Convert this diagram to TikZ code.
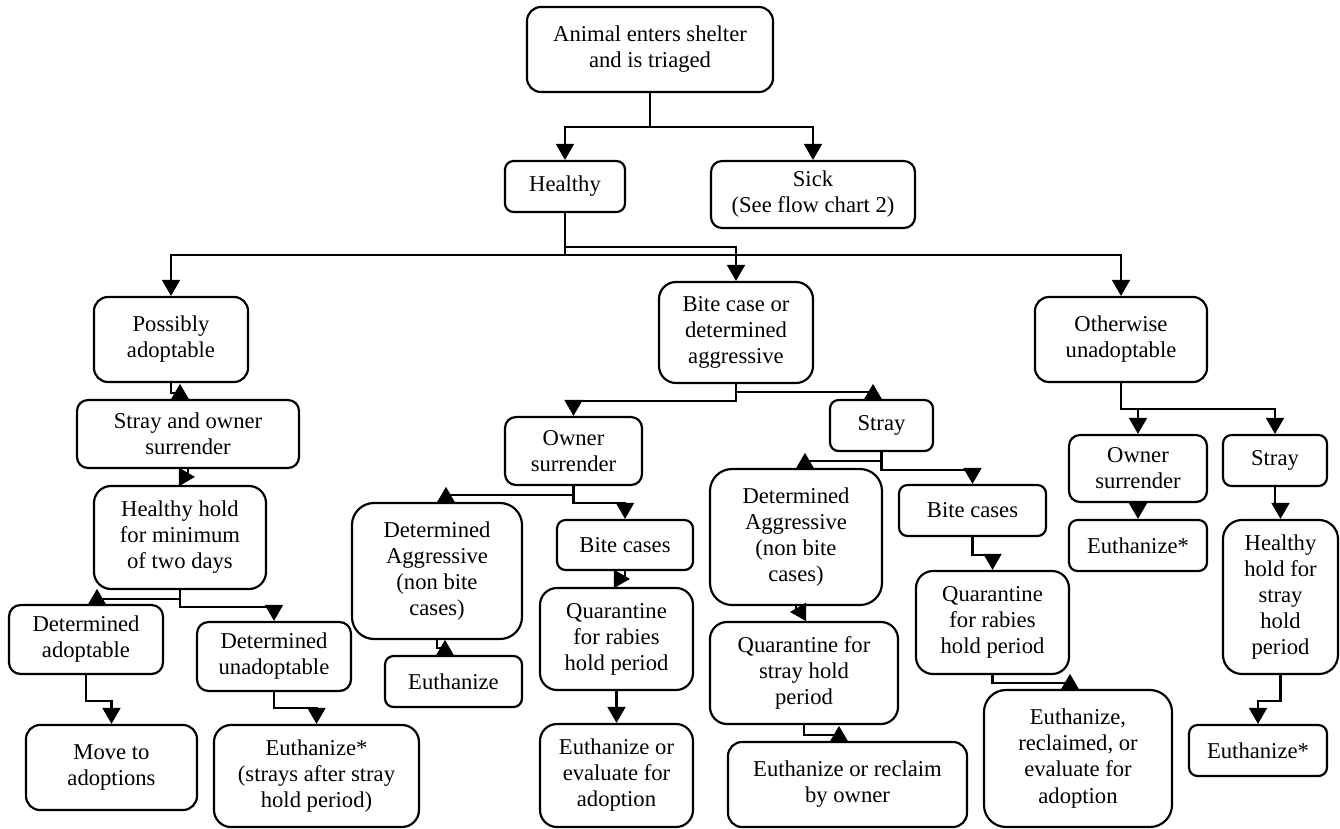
\documentclass[tikz,border=0pt]{standalone}
\usepackage{fontspec}
\setmainfont{Liberation Serif}
\usetikzlibrary{arrows.meta}
\newdimen\pxu
\pxu=0.53pt
\begin{document}
\begin{tikzpicture}[x=0.53pt, y=-0.53pt,
    card/.style n args={3}{draw, line width=1.15pt, rounded corners=#3\pxu,
        minimum width=#1\pxu, minimum height=#2\pxu, inner sep=0pt,
        align=center, font=\fontsize{12}{13.8}\selectfont},
    flow/.style={line width=1.15pt, -{Triangle[length=8.5pt,width=9.5pt]}},
    flowup/.style={line width=1.15pt, -{Triangle[reversed,length=8pt,width=9pt]}}]
    \useasboundingbox (0,0) rectangle (1340,829);
    % Triage
    \node[card={246}{85}{14}] (enter) at (650,49.5) {Animal enters shelter\\and is triaged};
    \node[card={120}{51}{8.5}] (healthy) at (565,186.5) {Healthy};
    \node[card={204}{67}{11}] (sick) at (813,194.5) {Sick\\(See flow chart 2)};
    % Second level
    \node[card={154}{85}{14}] (possibly) at (171,339.5) {Possibly\\adoptable};
    \node[card={154}{101}{17}] (bite) at (736,332.5) {Bite case or\\determined\\aggressive};
    \node[card={172}{85}{14}] (otherwise) at (1121,339.5) {Otherwise\\unadoptable};
    % Possibly adoptable branch
    \node[card={222}{68}{11}] (sos) at (188,434) {Stray and owner\\surrender};
    \node[card={172}{103}{17}] (hhold) at (180,537.5) {Healthy hold\\for minimum\\of two days};
    \node[card={154}{69}{11.5}] (detadopt) at (86,639.5) {Determined\\adoptable};
    \node[card={154}{69}{11.5}] (detunadopt) at (274,656.5) {Determined\\unadoptable};
    \node[card={171}{85}{14}] (move) at (111.5,767.5) {Move to\\adoptions};
    \node[card={205}{102}{17}] (euthA) at (316.5,776) {Euthanize*\\(strays after stray\\hold period)};
    % Bite case branch, owner surrender
    \node[card={137}{68}{11}] (ownerM) at (573.5,451) {Owner\\surrender};
    \node[card={170}{136}{22}] (aggrL) at (437,571) {Determined\\Aggressive\\(non bite\\cases)};
    \node[card={137}{51}{8.5}] (euthL) at (453.5,681.5) {Euthanize};
    \node[card={136}{50}{8.5}] (biteM) at (625,545) {Bite cases};
    \node[card={153}{102}{17}] (quarM) at (616.5,639) {Quarantine\\for rabies\\hold period};
    \node[card={153}{103}{17}] (evalM) at (616.5,775.5) {Euthanize or\\evaluate for\\adoption};
    % Bite case branch, stray
    \node[card={103}{51}{8.5}] (strayM) at (881.5,425.5) {Stray};
    \node[card={172}{136}{22}] (aggrR) at (796,537) {Determined\\Aggressive\\(non bite\\cases)};
    \node[card={147}{51}{8.5}] (biteR) at (972.5,510.5) {Bite cases};
    \node[card={188}{102}{17}] (quarS) at (804,673) {Quarantine for\\stray hold\\period};
    \node[card={239}{85}{14}] (reclaim) at (847.5,784.5) {Euthanize or reclaim\\by owner};
    \node[card={153}{103}{17}] (quarR) at (992.5,622.5) {Quarantine\\for rabies\\hold period};
    \node[card={188}{137}{22}] (euthR) at (1078,758.5) {Euthanize,\\reclaimed, or\\evaluate for\\adoption};
    % Otherwise unadoptable branch
    \node[card={138}{67}{11}] (ownerR) at (1138,468.5) {Owner\\surrender};
    \node[card={104}{51}{8.5}] (strayR) at (1275,460.5) {Stray};
    \node[card={138}{51}{8.5}] (euthS1) at (1138,545.5) {Euthanize*};
    \node[card={115}{154}{19}] (holdR) at (1280.5,597) {Healthy\\hold for\\stray\\hold\\period};
    \node[card={138}{51}{8.5}] (euthS2) at (1258,750.5) {Euthanize*};
    % Elbow connectors
    \foreach \src/\dst/\gap in {enter/healthy/34, enter/sick/34, healthy/possibly/42,
            healthy/bite/34, healthy/otherwise/42, hhold/detunadopt/17, detadopt/move/26,
            detunadopt/euthA/16, bite/ownerM/17, ownerM/biteM/17, quarM/evalM/17,
            strayM/biteR/18, biteR/quarR/18, otherwise/ownerR/26, otherwise/strayR/26,
            ownerR/euthS1/9, strayR/holdR/17, holdR/euthS2/26} {
            \draw[flow] (\src.south) -- ++(0,\gap) -| (\dst.north);
        }
    % Connectors whose tip sits upside down on the box
    \foreach \src/\dst/\gap/\off in {possibly/sos/10/-8, hhold/detadopt/9/11,
            bite/strayM/8/-8.5, ownerM/aggrL/9/9, aggrL/euthL/8/-8.5,
            strayM/aggrR/9/9, quarS/reclaim/10/-8.5, quarR/euthR/8/-8} {
            \draw[flowup] (\src.south) -- ++(0,\gap) -| ([shift={(\off,0)}]\dst.north);
        }
    % Connectors whose tip lies sideways
    \draw[flow] (sos.south) |- ([shift={(15,-8)}]hhold.north);
    \draw[flow] (biteM.south) |- ([shift={(13.5,-8)}]quarM.north);
    \draw[flow] (aggrR.south) |- ([shift={(-14,-9)}]quarS.north);
\end{tikzpicture}
\end{document}
